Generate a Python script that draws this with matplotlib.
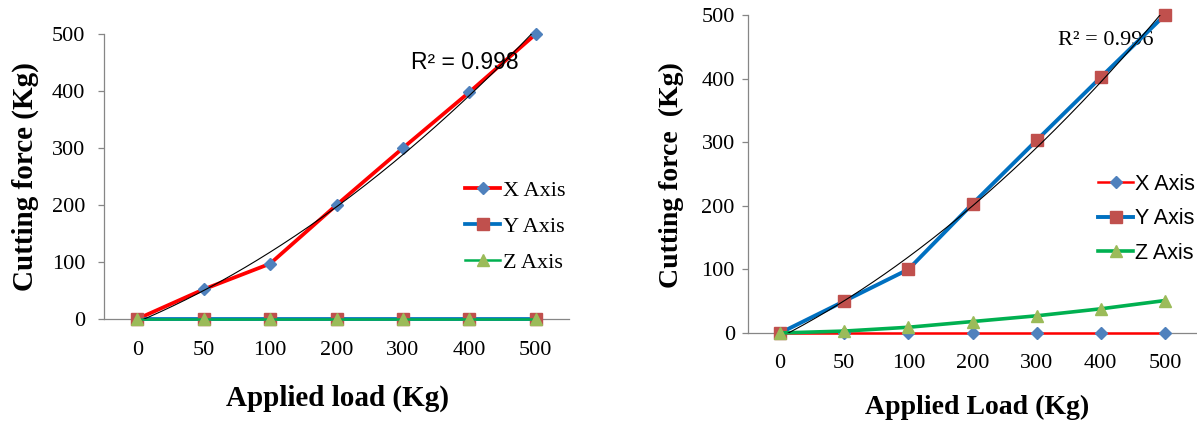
import numpy as np
import matplotlib
matplotlib.use("Agg")
import matplotlib.pyplot as plt

plt.rcParams['font.family'] = ['Liberation Serif', 'DejaVu Serif']

# data
loads = ['0', '50', '100', '200', '300', '400', '500']

left_x = [0, 52, 97, 200, 300, 398, 500]
left_y = [0, 0, 0, 0, 0, 0, 0]
left_z = [0, 0, 0, 0, 0, 0, 0]
left_r2 = 'R² = 0.998'

right_x = [0, 0, 0, 0, 0, 0, 0]
right_y = [0, 50, 100, 203, 303, 402, 500]
right_z = [0, 3, 9, 18, 27, 38, 51]
right_r2 = 'R² = 0.996'

series_names = ['X Axis', 'Y Axis', 'Z Axis']

RED, BLUE, GREEN = '#FF0000', '#0070C0', '#00B050'
DIAM, SQ, TRI = '#4F81BD', '#C0504D', '#9BBB59'
GREY = '#868686'

fig = plt.figure(figsize=(11.97, 4.23), dpi=100)
axL = fig.add_axes([0.0869, 0.2459, 0.3885, 0.6738])
axR = fig.add_axes([0.6249, 0.2128, 0.3751, 0.7518])


def style_axes(ax, xpad, ypad):
    ax.set_xlim(-0.5, 6.5)
    ax.set_ylim(0, 500)
    ax.set_yticks([0, 100, 200, 300, 400, 500])
    ax.set_xticks(range(len(loads)))
    ax.set_xticklabels(loads)
    for s in ['top', 'right']:
        ax.spines[s].set_visible(False)
    for s in ['left', 'bottom']:
        ax.spines[s].set_color(GREY)
        ax.spines[s].set_linewidth(0.9)
    ax.tick_params(axis='y', direction='out', length=4.5, width=0.9, color=GREY,
                   labelsize=16, pad=ypad)
    ax.tick_params(axis='x', length=0, labelsize=16, pad=xpad)


def draw_series(ax, xs, ys, zs, lw_x, lw_y, lw_z):
    idx = np.arange(len(loads))
    ax.plot(idx, xs, color=RED, lw=lw_x, marker='D', ms=6.3, mfc=DIAM, mec=DIAM,
            clip_on=False, zorder=3, label=series_names[0])
    ax.plot(idx, ys, color=BLUE, lw=lw_y, marker='s', ms=8, mfc=SQ, mec=SQ,
            clip_on=False, zorder=4, label=series_names[1])
    ax.plot(idx, zs, color=GREEN, lw=lw_z, marker='^', ms=8.5, mfc=TRI, mec=TRI,
            clip_on=False, zorder=5, label=series_names[2])


def trend(ax, vals):
    # 2nd order polynomial trendline, as in the spreadsheet
    idx = np.arange(len(vals))
    c = np.polyfit(idx, vals, 2)
    xx = np.linspace(0, len(vals) - 1, 200)
    ax.plot(xx, np.polyval(c, xx), color='black', lw=0.8, zorder=6)


# left chart
style_axes(axL, xpad=16, ypad=9)
draw_series(axL, left_x, left_y, left_z, 2.7, 2.7, 1.8)
trend(axL, left_x)
axL.text(0.66, 0.90, left_r2, transform=axL.transAxes, fontsize=16.5,
         family='Liberation Sans', va='center', ha='left')
axL.legend(loc='upper left', bbox_to_anchor=(0.776, 0.486), frameon=False,
           fontsize=16, handlelength=1.6, handletextpad=0.1, borderpad=0,
           borderaxespad=0, labelspacing=0.69)
axL.set_xlabel('Applied load (Kg)', fontsize=21, fontweight='bold')
axL.xaxis.set_label_coords(337 / 1197, 1 - 398 / 423, transform=fig.transFigure)
axL.xaxis.label.set_va('center')
axL.set_ylabel('Cutting force (Kg)', fontsize=21, fontweight='bold')
axL.yaxis.set_label_coords(25 / 1197, 1 - 177 / 423, transform=fig.transFigure)
axL.yaxis.label.set_va('center')

# right chart
style_axes(axR, xpad=15, ypad=5)
draw_series(axR, right_x, right_y, right_z, 1.8, 2.8, 2.6)
trend(axR, right_y)
axR.text(0.69, 0.92, right_r2, transform=axR.transAxes, fontsize=16,
         va='center', ha='left')
axR.legend(loc='upper left', bbox_to_anchor=(0.78, 0.50), frameon=False,
           prop={'family': 'Liberation Sans', 'size': 15.5},
           handlelength=1.63, handletextpad=0.1, borderpad=0,
           borderaxespad=0, labelspacing=0.62)
axR.set_xlabel('Applied Load (Kg)', fontsize=20, fontweight='bold')
axR.xaxis.set_label_coords(977 / 1197, 1 - 407 / 423, transform=fig.transFigure)
axR.xaxis.label.set_va('center')
axR.set_ylabel('Cutting force  (Kg)', fontsize=20, fontweight='bold')
axR.yaxis.set_label_coords(671 / 1197, 1 - 175 / 423, transform=fig.transFigure)
axR.yaxis.label.set_va('center')

fig.savefig('out.png', dpi=100)
